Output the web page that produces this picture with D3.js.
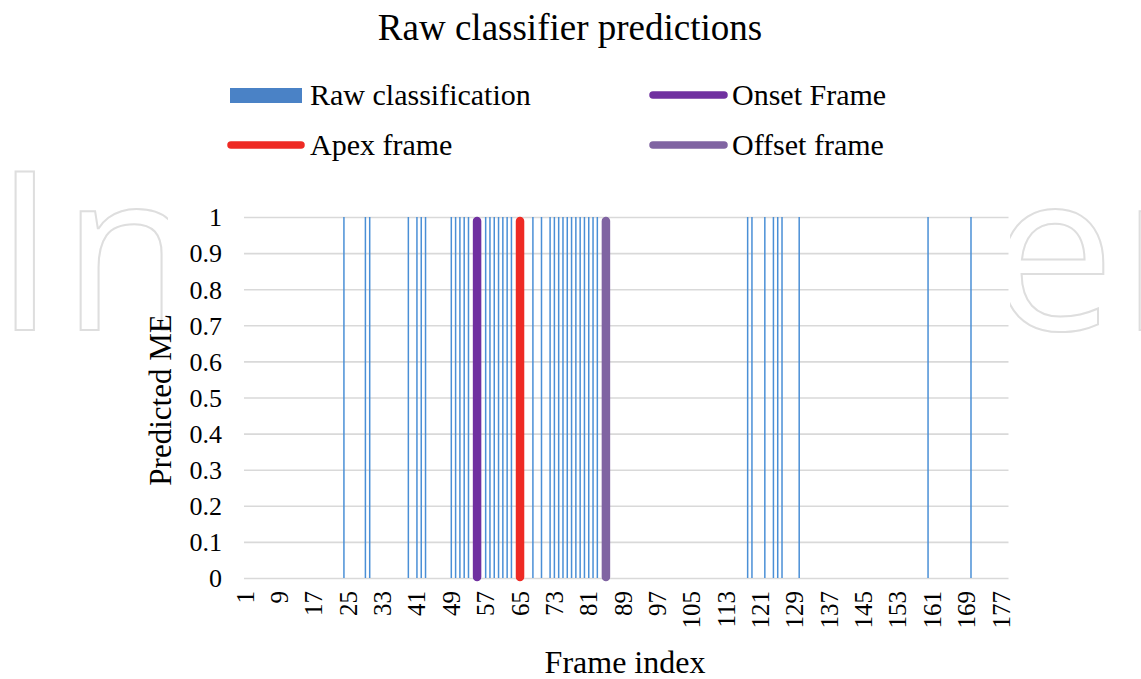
<!DOCTYPE html>
<html>
<head>
<meta charset="utf-8">
<script src="https://cdn.jsdelivr.net/npm/d3@7"></script>
<style>
  body { margin: 0; background: #fff; }
  svg text { font-family: "Liberation Serif", "Times New Roman", serif; fill: #000; }
</style>
</head>
<body>
<svg id="chart" width="1141" height="679"></svg>
<script>
// frame categories on the x axis (1..178)
const frames = d3.range(1, 179);
// frames where the raw classifier predicted an ME (value 1, everything else 0)
const rawFrames = [24, 29, 30, 39, 41, 42, 43, 49, 50, 51, 52, 53,
    57, 58, 59, 60, 61, 62, 63, 68, 70,
    72, 73, 74, 75, 76, 77, 78, 79, 80, 81, 82, 83,
    118, 119, 122, 124, 125, 126, 130, 160, 170];
const onsetFrame = 55;
const apexFrame = 65;
const offsetFrame = 85;
const xTickLabels = [1, 9, 17, 25, 33, 41, 49, 57, 65, 73, 81, 89, 97, 105, 113, 121, 129, 137, 145, 153, 161, 169, 177];
const yTickValues = [0, 0.1, 0.2, 0.3, 0.4, 0.5, 0.6, 0.7, 0.8, 0.9, 1];

const colors = {
    raw: "#4a8fd6",
    legendRaw: "#4a82c6",
    onset: "#7030a0",
    apex: "#ee2a24",
    offset: "#8064a2"
};

const svg = d3.select("#chart");
const width = 1141, height = 679;
const plot = { left: 243, right: 1007.5, top: 217, bottom: 578 };

// faint watermark behind the chart
svg.append("text")
    .attr("x", -6)
    .attr("y", 330)
    .style("font-family", "'Open Sans', sans-serif")
    .style("font-size", "221px")
    .style("letter-spacing", "6px")
    .style("fill", "#fff")
    .style("stroke", "#dedede")
    .style("stroke-width", 2)
    .text("IntechOpen");

// chart area hides the middle of the watermark
svg.append("rect")
    .attr("x", 168).attr("y", 0)
    .attr("width", 842).attr("height", height)
    .attr("fill", "#fff");

const x = d3.scaleBand()
    .domain(frames)
    .range([plot.left, plot.right]);
const cx = f => x(f) + x.bandwidth() / 2;

const y = d3.scaleLinear()
    .domain([0, 1])
    .range([plot.bottom, plot.top]);

// y axis with gridlines
const yAxis = svg.append("g")
    .attr("transform", `translate(${plot.left + 1},0)`)
    .call(d3.axisLeft(y)
        .tickValues(yTickValues)
        .tickSize(-(plot.right - plot.left))
        .tickPadding(22)
        .tickFormat(d => d3.format("")(+d.toFixed(1))));
yAxis.select(".domain").remove();
yAxis.selectAll(".tick line")
    .attr("stroke", "#d9d9d9")
    .attr("stroke-width", 1.6);
yAxis.selectAll(".tick text")
    .style("font-size", "26px")
    .attr("dy", "0.34em");

// x axis labels, rotated
const xAxis = svg.append("g")
    .attr("transform", `translate(0,${plot.bottom})`)
    .call(d3.axisBottom(x).tickValues(xTickLabels).tickSize(0));
xAxis.select(".domain").remove();
xAxis.selectAll(".tick text")
    .style("font-size", "25px")
    .attr("transform", "rotate(-90)")
    .attr("text-anchor", "end")
    .attr("x", -13)
    .attr("y", 0)
    .attr("dy", "0.34em");

// raw classification marks
svg.append("g")
    .selectAll("line")
    .data(rawFrames)
    .enter()
    .append("line")
    .attr("x1", d => cx(d))
    .attr("x2", d => cx(d))
    .attr("y1", y(0))
    .attr("y2", y(1))
    .attr("stroke", colors.raw)
    .attr("stroke-width", 1.5);

// onset, apex, offset
const keyFrames = [
    { frame: onsetFrame, color: colors.onset },
    { frame: apexFrame, color: colors.apex },
    { frame: offsetFrame, color: colors.offset }
];
svg.append("g")
    .selectAll("line")
    .data(keyFrames)
    .enter()
    .append("line")
    .attr("x1", d => cx(d.frame))
    .attr("x2", d => cx(d.frame))
    .attr("y1", y(0) - 1)
    .attr("y2", y(1) + 4)
    .attr("stroke", d => d.color)
    .attr("stroke-width", 8.5)
    .attr("stroke-linecap", "round");

// title
svg.append("text")
    .attr("x", 570)
    .attr("y", 40)
    .attr("text-anchor", "middle")
    .style("font-size", "37px")
    .text("Raw classifier predictions");

// legend
const legend = svg.append("g");
legend.append("rect")
    .attr("x", 230).attr("y", 88)
    .attr("width", 72).attr("height", 15)
    .attr("fill", colors.legendRaw);
legend.append("text").attr("x", 310).attr("y", 105)
    .style("font-size", "30px").text("Raw classification");

const legendLines = [
    { x1: 653, x2: 724, y: 95, color: colors.onset, label: "Onset Frame", tx: 732, ty: 105 },
    { x1: 231, x2: 301, y: 145, color: colors.apex, label: "Apex frame", tx: 310, ty: 155 },
    { x1: 653, x2: 724, y: 145, color: colors.offset, label: "Offset frame", tx: 732, ty: 155 }
];
legendLines.forEach(d => {
    legend.append("line")
        .attr("x1", d.x1).attr("x2", d.x2)
        .attr("y1", d.y).attr("y2", d.y)
        .attr("stroke", d.color)
        .attr("stroke-width", 7.5)
        .attr("stroke-linecap", "round");
    legend.append("text").attr("x", d.tx).attr("y", d.ty)
        .style("font-size", "30px").text(d.label);
});

// axis titles
svg.append("text")
    .attr("transform", "translate(160,400) rotate(-90)")
    .attr("text-anchor", "middle")
    .attr("dominant-baseline", "central")
    .style("font-size", "31px")
    .text("Predicted ME");

svg.append("text")
    .attr("x", 625)
    .attr("y", 673)
    .attr("text-anchor", "middle")
    .style("font-size", "32px")
    .text("Frame index");
</script>
</body>
</html>
